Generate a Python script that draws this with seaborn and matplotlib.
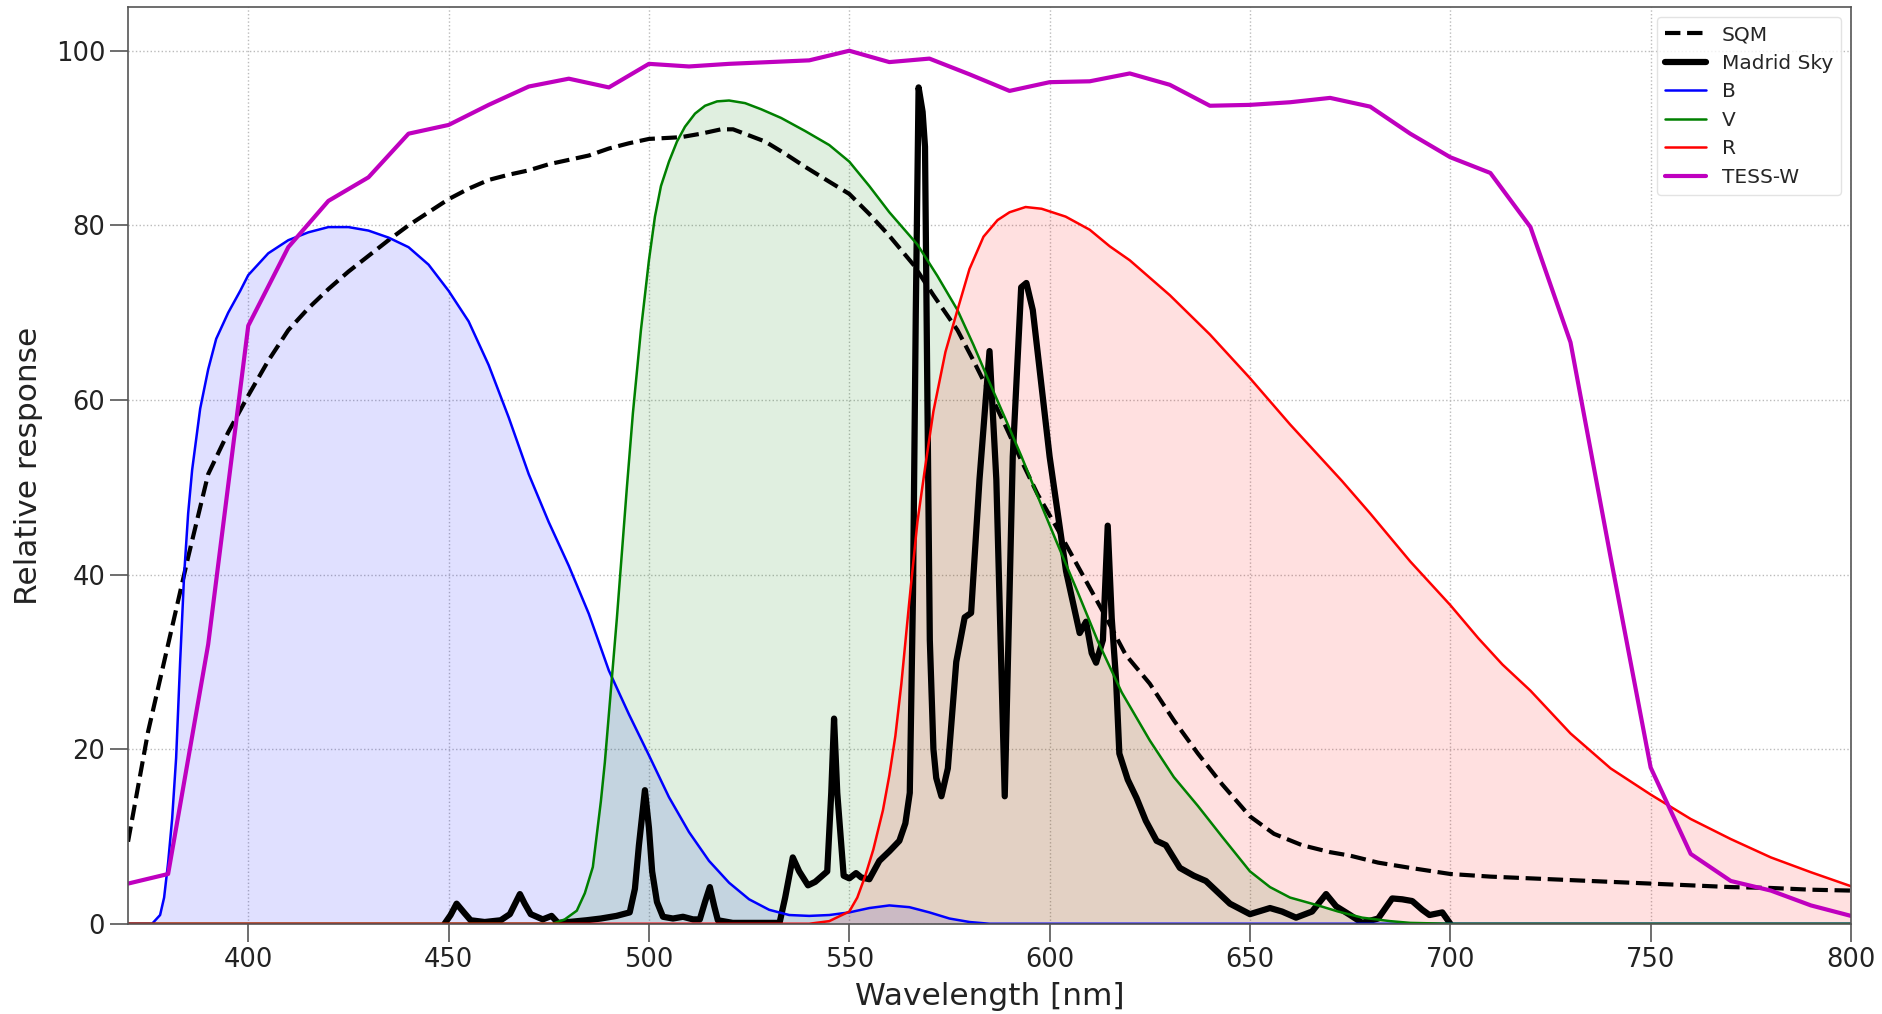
import numpy as np
import matplotlib
matplotlib.use("Agg")
import matplotlib.pyplot as plt
import seaborn as sns

# -----------------------
# Data
# -----------------------
wl_sqm = [370, 375, 380, 385, 390, 395, 400, 405, 410, 415, 420, 425, 430, 435, 440,
          445, 450, 455, 460, 465, 470, 475, 480, 485, 490, 495, 500, 508, 513, 518,
          521, 525, 529, 534, 539, 545, 550, 555, 560, 566, 571, 577, 581, 585, 589,
          593, 597, 601.5, 607, 613, 619, 625, 631, 637, 643, 650, 656, 663, 670, 675,
          682, 690, 700, 710, 720, 730, 740, 750, 760, 770, 780, 790, 800]
sqm = [9.4, 22, 32, 42, 51.5, 56.3, 60.5, 64.5, 68, 70.5, 72.7, 74.7, 76.5, 78.3, 80,
       81.5, 83, 84.2, 85.2, 85.8, 86.3, 87, 87.5, 88, 88.8, 89.4, 89.9, 90.1, 90.5, 91,
       91, 90.3, 89.6, 88.2, 86.7, 85, 83.6, 81.3, 78.8, 75.5, 72, 68, 64.5, 60.8, 57,
       53, 49.2, 45.6, 41, 36, 30.8, 27.5, 23.3, 19.5, 16, 12.3, 10.3, 9, 8.2, 7.8,
       7, 6.4, 5.7, 5.4, 5.2, 5.0, 4.8, 4.6, 4.4, 4.2, 4.1, 3.9, 3.8]

wl_sky = [449, 450.5, 452, 454, 455.5, 459, 463, 465.3, 467.8, 469, 470.5, 473.5, 475.7,
          477.3, 480, 484.4, 488, 491.9, 495.2, 496.5, 497.5, 499, 500, 500.8, 502, 503.5,
          506, 508.5, 511, 512.7, 514, 515.2, 516.3, 517.2, 520.9, 532.6, 534, 535.9,
          537.5, 539.7, 541.5, 543, 544.5, 545.5, 546.2, 547, 548.6, 550, 551.7, 553,
          555, 557.5, 560, 562.5, 564, 565.1, 565.9, 566.6, 567.3, 568.3, 568.9, 569.5,
          570.1, 571, 571.7, 573, 574.6, 576.7, 578.8, 580.4, 582.5, 585, 586.7, 588.8,
          590.8, 592.9, 594.2, 595.8, 600, 604.1, 607.5, 609.1, 610.5, 611.6, 613.3,
          614.5, 615.5, 616.6, 617.4, 619.5, 621.7, 624, 626.7, 629, 632.5, 636, 639,
          642, 645, 650, 655, 658, 661.5, 665.5, 669, 671.5, 675, 678, 682, 685.5, 688,
          690.5, 693, 694.8, 698, 700]
sky = [0, 1, 2.3, 1.2, 0.4, 0.2, 0.4, 1.1, 3.4, 2.3, 1.1, 0.5, 0.9,
       0.1, 0.2, 0.4, 0.6, 0.9, 1.3, 4, 9, 15.3, 11, 6, 2.5, 0.8,
       0.6, 0.8, 0.5, 0.5, 2.5, 4.2, 2, 0.4, 0.1, 0.1, 3, 7.6,
       6, 4.4, 4.8, 5.4, 6, 15, 23.5, 15, 5.5, 5.2, 5.8, 5.3,
       5.1, 7.2, 8.3, 9.5, 11.5, 15, 37.7, 70, 95.8, 93, 89, 60,
       32.5, 20, 16.7, 14.6, 17.8, 30, 35.1, 35.6, 50.9, 65.6, 50.9, 14.6,
       53.5, 72.9, 73.4, 70.3, 53.5, 40.4, 33.3, 34.6, 31, 29.9, 32.5,
       45.6, 35, 27.8, 19.5, 16.5, 14.4, 11.8, 9.5, 9, 6.4, 5.5, 4.9,
       3.6, 2.3, 1.1, 1.8, 1.4, 0.7, 1.4, 3.4, 2.0, 1.0, 0.1, 0.6, 2.9, 2.8,
       2.6, 1.6, 1.0, 1.3, 0]

wl_b = [370, 376, 378, 379, 380, 381, 382, 383, 384, 385, 386, 388, 390, 392, 395, 398,
        400, 405, 410, 415, 420, 425, 430, 435, 440, 445, 450, 455, 460, 465, 470, 475,
        480, 485, 490, 495, 500, 505, 510, 515, 520, 525, 530, 535, 540, 545, 550, 555,
        560, 565, 570, 575, 580, 585, 800]
b_band = [0, 0, 1, 3, 7, 12, 19, 30, 40, 47, 52, 59, 63.5, 67, 70, 72.5,
          74.3, 76.8, 78.3, 79.2, 79.8, 79.8, 79.4, 78.6, 77.5, 75.5, 72.5, 69, 64, 58, 51.5, 46,
          41, 35.5, 29, 24, 19.3, 14.5, 10.5, 7.2, 4.7, 2.8, 1.6, 1.0, 0.9, 1.0, 1.3, 1.8,
          2.1, 1.9, 1.3, 0.6, 0.2, 0, 0]

wl_v = [370, 476, 479, 482, 484, 486, 488, 489, 490, 491, 492, 493, 494.5, 496, 498, 500,
        501.5, 503, 505, 507, 509, 511.5, 514, 517, 520, 524, 528, 533, 539, 545, 550,
        555, 560, 567, 572, 577, 581, 585, 589, 593, 597, 601.5, 607, 612, 618, 625,
        631, 637, 643, 650, 655, 660, 667, 672, 678, 685, 690, 700, 800]
v_band = [0, 0, 0.5, 1.5, 3.5, 6.5, 14, 18.5, 24, 29.5, 35, 41, 50, 58.5, 68, 76,
          81, 84.5, 87.3, 89.6, 91.3, 92.8, 93.7, 94.2, 94.3, 94, 93.3, 92.3, 90.8, 89.2, 87.3,
          84.5, 81.5, 77.8, 74.2, 70.3, 66.3, 62, 57.8, 53.5, 49, 44, 38, 32.4, 26.5, 21,
          16.8, 13.5, 10, 6, 4.2, 3, 2.1, 1.4, 0.7, 0.3, 0.1, 0, 0]

wl_r = [370, 540, 545, 550, 552, 554, 556, 558.4, 560, 561.5, 563, 565, 567, 569, 571,
        574, 577, 580, 583.5, 587, 590, 594, 598, 604, 610, 615, 620, 630, 640, 650,
        660, 673, 680, 690, 700, 707, 713, 720, 730, 740, 750, 760, 770, 780, 790, 800]
r_band = [0, 0, 0.3, 1.4, 3, 5.5, 8.5, 13, 17, 21.5, 27.5, 37, 46, 52.5, 58.7,
          65.5, 70.3, 75, 78.7, 80.6, 81.5, 82.1, 81.9, 81, 79.5, 77.6, 76, 72, 67.5, 62.5,
          57.2, 50.7, 47, 41.5, 36.5, 32.7, 29.7, 26.7, 21.8, 17.8, 14.8, 12, 9.7, 7.6, 5.9, 4.3]

wl_tess = [370, 380, 390, 400, 410, 420, 430, 440, 450, 460, 470, 480, 490, 500, 510,
           520, 530, 540, 550, 560, 570, 580, 590, 600, 610, 620, 630, 640, 650, 660,
           670, 680, 690, 700, 710, 720, 730, 740, 750, 760, 770, 780, 790, 800]
tess = [4.6, 5.7, 32, 68.5, 77.5, 82.8, 85.5, 90.5, 91.5, 93.8, 95.9, 96.8, 95.8, 98.5, 98.2,
        98.5, 98.7, 98.9, 100, 98.7, 99.1, 97.3, 95.4, 96.4, 96.5, 97.4, 96.1, 93.7, 93.8, 94.1,
        94.6, 93.6, 90.5, 87.8, 86, 79.8, 66.6, 42, 17.9, 8.0, 4.9, 3.8, 2.1, 0.9]

# -----------------------
# Style
# -----------------------
sns.set_style("white")
plt.rcParams["font.family"] = ["DejaVu Sans"]

fig, ax = plt.subplots(figsize=(18.83, 10.14), dpi=100)
fig.subplots_adjust(left=0.068, right=0.983, top=0.993, bottom=0.089)

# filled bands
ax.fill_between(wl_b, b_band, color="b", alpha=0.12, lw=0)
ax.fill_between(wl_v, v_band, color="g", alpha=0.12, lw=0)
ax.fill_between(wl_r, r_band, color="r", alpha=0.12, lw=0)

# curves
sns.lineplot(x=wl_sqm, y=sqm, ax=ax, color="k", lw=3, linestyle="--", label="SQM")
sns.lineplot(x=wl_sky, y=sky, ax=ax, color="k", lw=4.5, label="Madrid Sky")
sns.lineplot(x=wl_b, y=b_band, ax=ax, color="b", lw=1.8, label="B")
sns.lineplot(x=wl_v, y=v_band, ax=ax, color="g", lw=1.8, label="V")
sns.lineplot(x=wl_r, y=r_band, ax=ax, color="r", lw=1.8, label="R")
sns.lineplot(x=wl_tess, y=tess, ax=ax, color="m", lw=3, label="TESS-W")

ax.set_xlim(370, 800)
ax.set_ylim(0, 105)
ax.set_xticks(np.arange(400, 801, 50))
ax.set_yticks(np.arange(0, 101, 20))
ax.grid(True, linestyle=":", color="#bbbbbb", lw=1)
ax.tick_params(direction="out", length=13, width=1.2, color="#555555",
               labelsize=18.5, labelcolor="#222222", bottom=True, left=True)
for sp in ax.spines.values():
    sp.set_color("#555555")
    sp.set_linewidth(1.2)

ax.set_xlabel("Wavelength [nm]", fontsize=22.5, color="#222222", labelpad=7)
ax.set_ylabel("Relative response", fontsize=22.5, color="#222222", labelpad=9)

leg = ax.legend(loc="upper right", fontsize=14.5, handlelength=2.0, frameon=True,
                labelspacing=0.47, borderaxespad=0.5)
leg.get_frame().set_edgecolor("#dddddd")

plt.savefig("out.png", dpi=100)
